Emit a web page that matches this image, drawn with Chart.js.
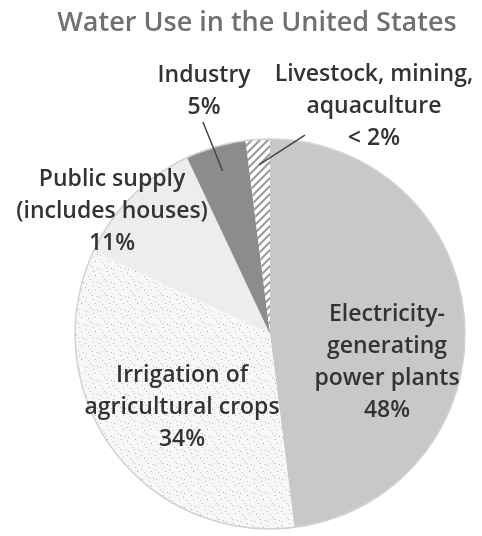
<!DOCTYPE html>
<html>
<head>
<meta charset="utf-8">
<script src="https://cdn.jsdelivr.net/npm/chart.js@4/dist/chart.umd.min.js"></script>
<style>
  html, body { margin: 0; padding: 0; background: #fff; }
  canvas { display: block; }
</style>
</head>
<body>
<canvas id="waterChart" width="482" height="536"></canvas>
<script>
const chartTitle = 'Water Use in the United States';
const categories = [
  'Electricity-generating power plants',
  'Irrigation of agricultural crops',
  'Public supply (includes houses)',
  'Industry',
  'Livestock, mining, aquaculture'
];
const shares = [48, 34, 11, 5, 2];
const shareLabels = ['48%', '34%', '11%', '5%', '< 2%'];
const nameLines = [
  ['Electricity-', 'generating', 'power plants'],
  ['Irrigation of', 'agricultural crops'],
  ['Public supply', '(includes houses)'],
  ['Industry'],
  ['Livestock, mining,', 'aquaculture']
];

// label block centres, in radii from the pie centre
const labelSpots = [
  { dx: 0.60, dy: 0.144 },
  { dx: -0.451, dy: 0.379 },
  { dx: -0.810, dy: -0.626 },
  { dx: -0.338, dy: -1.246 },
  { dx: 0.533, dy: -1.169 }
];
// leader lines for the thin slices (start point in radii, end on the slice's mid angle)
const leaders = [null, null, null,
  { from: [-0.344, -1.087], inner: 0.87 },
  { from: [0.179, -1.02], inner: 0.87 }
];

function dotPattern() {
  const c = document.createElement('canvas');
  c.width = c.height = 14;
  const g = c.getContext('2d');
  g.fillStyle = '#f7f7f7';
  g.fillRect(0, 0, 14, 14);
  g.fillStyle = '#b8b8b8';
  [[2, 3], [8, 1], [11, 9], [4, 10], [9, 5], [1, 7], [6, 13], [13, 2]].forEach(([x, y]) => g.fillRect(x, y, 1, 1));
  return g.createPattern(c, 'repeat');
}

function hatchPattern() {
  const c = document.createElement('canvas');
  c.width = c.height = 8;
  const g = c.getContext('2d');
  g.fillStyle = '#ffffff';
  g.fillRect(0, 0, 8, 8);
  g.strokeStyle = '#9a9a9a';
  g.lineWidth = 2;
  g.beginPath();
  g.moveTo(-2, 10); g.lineTo(10, -2);
  g.moveTo(-2, 2); g.lineTo(2, -2);
  g.moveTo(6, 10); g.lineTo(10, 6);
  g.stroke();
  return g.createPattern(c, 'repeat');
}

const textFont = '600 23px "Open Sans", "DejaVu Sans", sans-serif';

const pieLabels = {
  id: 'pieLabels',
  afterDraw(chart) {
    const ctx = chart.ctx;
    const arcs = chart.getDatasetMeta(0).data;
    const cx = arcs[0].x, cy = arcs[0].y, r = arcs[0].outerRadius;

    ctx.save();
    // soft rim round the pie
    ctx.strokeStyle = '#d2d2d2';
    ctx.lineWidth = 1.5;
    ctx.beginPath();
    ctx.arc(cx, cy, r, 0, Math.PI * 2);
    ctx.stroke();

    // title
    ctx.fillStyle = '#707070';
    ctx.font = '600 27px "Open Sans", "DejaVu Sans", sans-serif';
    ctx.textAlign = 'center';
    ctx.textBaseline = 'middle';
    ctx.fillText(chartTitle, 257, 23);

    // leaders
    ctx.strokeStyle = '#444';
    ctx.lineWidth = 1.5;
    arcs.forEach((arc, i) => {
      const ld = leaders[i];
      if (!ld) return;
      const mid = (arc.startAngle + arc.endAngle) / 2;
      ctx.beginPath();
      ctx.moveTo(cx + ld.from[0] * r, cy + ld.from[1] * r);
      ctx.lineTo(cx + Math.cos(mid) * r * ld.inner, cy + Math.sin(mid) * r * ld.inner);
      ctx.stroke();
    });

    // slice labels
    ctx.fillStyle = '#333';
    ctx.font = textFont;
    const lineH = 32;
    arcs.forEach((arc, i) => {
      const lines = nameLines[i].concat(shareLabels[i]);
      const x = cx + labelSpots[i].dx * r;
      const y0 = cy + labelSpots[i].dy * r - (lines.length - 1) * lineH / 2;
      lines.forEach((t, k) => ctx.fillText(t, x, y0 + k * lineH));
    });
    ctx.restore();
  }
};

const ctx = document.getElementById('waterChart').getContext('2d');
new Chart(ctx, {
  type: 'pie',
  data: {
    labels: categories,
    datasets: [{
      data: shares,
      backgroundColor: ['#c8c8c8', dotPattern(), '#ededed', '#8c8c8c', hatchPattern()],
      borderWidth: 0
    }]
  },
  options: {
    responsive: false,
    animation: false,
    layout: { padding: { left: 75, right: 17, top: 139, bottom: 7 } },
    plugins: {
      legend: { display: false },
      tooltip: { enabled: false },
      title: { display: false }
    }
  },
  plugins: [pieLabels]
});
</script>
</body>
</html>
